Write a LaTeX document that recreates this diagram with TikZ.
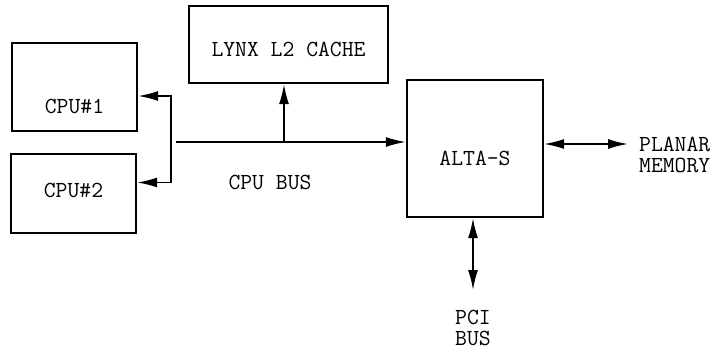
\documentclass[tikz,border=0pt]{standalone}
\usetikzlibrary{arrows.meta,positioning,calc}

\begin{document}
\begin{tikzpicture}[x=1pt, y=-1pt,
    box/.style={draw, line width=2.2pt, rectangle, inner sep=0pt},
    txt/.style={font=\fontsize{23}{21}\selectfont\ttfamily, inner sep=0pt, align=center},
    bus/.style={line width=1.8pt},
    toend/.style={arrows={-Latex[length=20pt,width=10pt]}},
    twoway/.style={arrows={Latex[length=20pt,width=10pt]-Latex[length=20pt,width=10pt]}}]
    \useasboundingbox (0,0) rectangle (717,351);
    % CPUs
    \node[box, minimum width=125pt, minimum height=88pt] (cpu1) at (74.5,87) {};
    \node[txt] (cpu1txt) at ([yshift=-19pt]cpu1.center) {CPU\#1};
    \node[box, minimum width=125pt, minimum height=79pt] (cpu2) at (73.5,193.5) {};
    \node[txt] (cpu2txt) at ([yshift=3pt]cpu2.center) {CPU\#2};
    % L2 cache
    \node[box, minimum width=199pt, minimum height=77pt] (cache) at (288.5,44.5) {};
    \node[txt] (cachetxt) at ([yshift=-5pt]cache.center) {LYNX L2 CACHE};
    % Bridge
    \node[box, minimum width=136pt, minimum height=137pt] (alta) at (475,148.5) {};
    \node[txt] (altatxt) at ([yshift=-10pt]alta.center) {ALTA-S};
    % Labels
    \node[txt] (buslbl) at (270,182) {CPU BUS};
    \node[txt, anchor=west, align=left] (memlbl) at (639,155) {PLANAR\\MEMORY};
    \node[txt] (pcilbl) at (473,328) {PCI\\BUS};
    % Bus points
    \coordinate (busstart) at (176,142);
    \coordinate (spine) at (171,140);
    \coordinate (tee) at (284,142);
    \coordinate (memend) at (628,144);
    \coordinate (pciend) at (473,290);
    % Arrows
    \draw[bus, twoway] ([yshift=-9pt]cpu1.east) -| (spine) |- ([yshift=11pt]cpu2.east);
    \draw[bus, toend] (busstart) -- (busstart -| alta.west);
    \draw[bus, toend] (tee) -- (tee |- cache.south);
    \draw[bus, twoway] (memend -| alta.east) -- (memend);
    \draw[bus, twoway] (pciend |- alta.south) -- (pciend);
\end{tikzpicture}
\end{document}
